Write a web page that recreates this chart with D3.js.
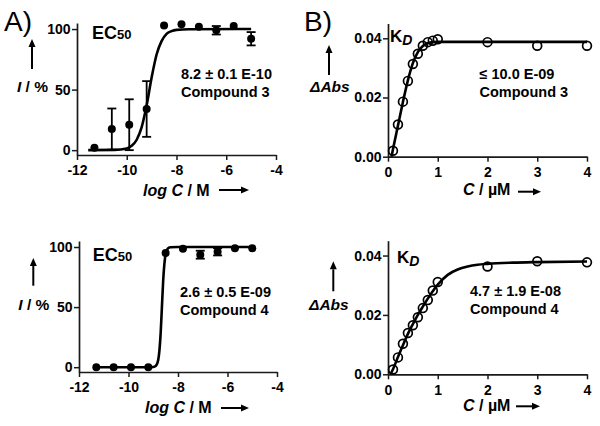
<!DOCTYPE html>
<html><head><meta charset="utf-8">
<script src="https://cdn.jsdelivr.net/npm/d3@7"></script>
<style>
html,body{margin:0;padding:0;background:#fff;}
svg{display:block;}
text{font-family:'Liberation Sans',Arial,Helvetica,sans-serif;fill:#000;}
</style></head>
<body>
<svg id="chart" width="600" height="426"></svg>
<script>
// ---------- data ----------
const aX = [-11.3, -10.6, -9.9, -9.2, -8.5, -7.8, -7.1, -6.4, -5.7, -5.0];
const a3Y = [1.9, 17.4, 21, 34, 103, 104, 102, 99, 102.5, 92];
const a3Err = [0, 17, 21, 23, 0, 0, 0, 3.5, 0, 5.5];
const a3CurveX = [-11.55, -10.5, -10.0, -9.8, -9.6, -9.4, -9.2, -9.0, -8.8, -8.6, -8.4, -8.2, -8.0, -7.5, -5.0];
const a3CurveY = [0, 0.2, 1.4, 3.6, 8.6, 19, 37, 60, 79, 90, 96, 98.3, 99.3, 99.9, 100];
const a4Y = [0, 0, 0, 0, 95, 98.6, 93.6, 96, 99, 99];
const a4Err = [0, 0, 0, 0, 0, 0, 3.3, 3, 0, 0];
const a4CurveX = [-11.3, -9.2, -9.0, -8.9, -8.8, -8.75, -8.7, -8.65, -8.6, -8.55, -8.5, -8.4, -8.3, -8.0, -5.0];
const a4CurveY = [0, 0, 0.2, 1, 6, 14, 28.5, 50, 71.5, 86, 94, 99, 99.8, 100, 100];

const bX = [0.1, 0.2, 0.3, 0.4, 0.5, 0.6, 0.7, 0.8, 0.9, 1.0, 2, 3, 4];
const b3Y = [0.0020, 0.0109, 0.0186, 0.0256, 0.0313, 0.0348, 0.0375, 0.0387, 0.0392, 0.0397, 0.0387, 0.0375, 0.0375];
const b3CurveX = [0.07, 0.1, 0.2, 0.3, 0.4, 0.5, 0.6, 0.7, 0.8, 0.9, 1.0, 2, 4];
const b3CurveY = [0, 0.0025, 0.0105, 0.0185, 0.0258, 0.0316, 0.0353, 0.0374, 0.0383, 0.0387, 0.0388, 0.0388, 0.0388];
const b4Y = [0.0016, 0.0057, 0.0103, 0.0139, 0.0165, 0.0192, 0.0223, 0.0250, 0.0282, 0.0311, 0.0363, 0.0381, 0.0377];
const b4CurveX = [0.05, 0.1, 0.2, 0.3, 0.4, 0.5, 0.6, 0.7, 0.8, 0.9, 1.0, 1.2, 1.4, 1.6, 1.8, 2.0, 2.5, 3, 4];
const b4CurveY = [0, 0.0017, 0.0058, 0.0098, 0.0136, 0.0169, 0.0200, 0.0228, 0.0255, 0.0280, 0.0302, 0.0335, 0.0353, 0.0363, 0.0369, 0.0372, 0.0376, 0.0378, 0.0380];

const aXTicks = [-12, -10, -8, -6, -4];
const aYTicks = [0, 50, 100];
const bXTicks = [0, 1, 2, 3, 4];
const bYTicks = [0, 0.02, 0.04];

const panelLabels = ["A)", "B)"];
const aValue = ["8.2 \u00B1 0.1 E-10", "2.6 \u00B1 0.5 E-09"];
const bValue = ["\u2264 10.0 E-09", "4.7 \u00B1 1.9 E-08"];
const compounds = ["Compound 3", "Compound 4"];

// ---------- drawing ----------
const svg = d3.select("#chart");
const AX = "#1a1a1a";
const FF = "'Liberation Sans',Arial,Helvetica,sans-serif";

function txt(g, x, y, size, weight) {
  return g.append("text").attr("x", x).attr("y", y)
    .style("font-size", size + "px").style("font-weight", weight || "bold").style("font-family", FF);
}

function drawAxes(g, x, y, xTicks, yTicks, yFmt) {
  const xa = g.append("g").attr("transform", `translate(0,${y.range()[0]})`)
    .call(d3.axisBottom(x).tickValues(xTicks).tickSize(5).tickSizeOuter(0).tickPadding(5.5).tickFormat(d => String(d)));
  const ya = g.append("g").attr("transform", `translate(${x.range()[0]},0)`)
    .call(d3.axisLeft(y).tickValues(yTicks).tickSize(5).tickSizeOuter(0).tickPadding(1.5).tickFormat(yFmt));
  [xa, ya].forEach(a => {
    a.selectAll("path.domain").attr("stroke", AX).attr("stroke-width", 1.7);
    a.selectAll(".tick line").attr("stroke", AX).attr("stroke-width", 1.5);
    a.selectAll(".tick text").attr("fill", "#000")
      .style("font-size", "14px").style("font-weight", "bold").style("font-family", FF);
  });
}

function curve(g, x, y, cx, cy) {
  const pts = cx.map((v, i) => [v, cy[i]]);
  g.append("path").datum(pts)
    .attr("d", d3.line().x(d => x(d[0])).y(d => y(d[1])).curve(d3.curveMonotoneX))
    .attr("fill", "none").attr("stroke", "#000").attr("stroke-width", 2.6).attr("stroke-linejoin", "round");
}

function arrow(g, x1, y1, x2, y2) {
  const ang = Math.atan2(y2 - y1, x2 - x1);
  const L = 8, W = 3.5;
  const bx = x2 - L * Math.cos(ang), by = y2 - L * Math.sin(ang);
  g.append("line").attr("x1", x1).attr("y1", y1).attr("x2", bx).attr("y2", by)
    .attr("stroke", "#000").attr("stroke-width", 2);
  const px = -Math.sin(ang) * W, py = Math.cos(ang) * W;
  g.append("path").attr("d", `M${x2},${y2}L${bx + px},${by + py}L${bx - px},${by - py}Z`).attr("fill", "#000");
}

// ----- Panel A (EC50) -----
const aPanels = [
  {xr: [77, 276], yr: [155, 23], ys: a3Y, err: a3Err, cx: a3CurveX, cy: a3CurveY,
   ec: [92, 38.5], val: [181, 78.5], cmp: 97, arrowY: [32, 69, 39], ylab: [17, 92], xlab: [143, 196], xarrow: [219, 249, 190]},
  {xr: [79, 277], yr: [372, 241], ys: a4Y, err: a4Err, cx: a4CurveX, cy: a4CurveY,
   ec: [92.7, 261], val: [180, 297.3], cmp: 314.7, arrowY: [33.3, 285.7, 258], ylab: [18.3, 309.7], xlab: [145, 413], xarrow: [221, 249, 408]}
];
aPanels.forEach((p, i) => {
  const g = svg.append("g");
  const x = d3.scaleLinear().domain([-12, -4]).range(p.xr);
  const y = d3.scaleLinear().domain([-4, 105]).range(p.yr);
  drawAxes(g, x, y, aXTicks, aYTicks, d => String(d));
  curve(g, x, y, p.cx, p.cy);
  aX.forEach((xv, j) => {
    const e = p.err[j];
    if (e <= 0) return;
    const lo = Math.max(p.ys[j] - e, 0), hi = p.ys[j] + e;
    const X = x(xv);
    g.append("line").attr("x1", X).attr("x2", X).attr("y1", y(lo)).attr("y2", y(hi)).attr("stroke", "#000").attr("stroke-width", 1.8);
    g.append("line").attr("x1", X - 4.5).attr("x2", X + 4.5).attr("y1", y(hi)).attr("y2", y(hi)).attr("stroke", "#000").attr("stroke-width", 1.8);
    g.append("line").attr("x1", X - 4.5).attr("x2", X + 4.5).attr("y1", y(lo)).attr("y2", y(lo)).attr("stroke", "#000").attr("stroke-width", 1.8);
  });
  g.selectAll("circle.pt").data(aX).enter().append("circle")
    .attr("cx", d => x(d)).attr("cy", (d, j) => y(p.ys[j])).attr("r", 4).attr("fill", "#000");
  const ec = txt(g, p.ec[0], p.ec[1], 18);
  ec.append("tspan").text("EC");
  ec.append("tspan").style("font-size", "13px").text("50");
  txt(g, p.val[0], p.val[1], 14.5).text(aValue[i]);
  txt(g, p.val[0], p.cmp, 14.5).text(compounds[i]);
  arrow(g, p.arrowY[0], p.arrowY[1], p.arrowY[0], p.arrowY[2]);
  const yl = txt(g, p.ylab[0], p.ylab[1], 15.5);
  yl.append("tspan").style("font-style", "italic").text("I");
  yl.append("tspan").text(" / %");
  const xl = txt(g, p.xlab[0], p.xlab[1], 16);
  xl.append("tspan").style("font-style", "italic").text("log C");
  xl.append("tspan").text(" / M");
  arrow(g, p.xarrow[0], p.xarrow[2], p.xarrow[1], p.xarrow[2]);
});

// ----- Panel B (KD) -----
const bPanels = [
  {yr: [156.7, 23.5], ys: b3Y, cx: b3CurveX, cy: b3CurveY,
   kd: [390, 42], val: [479.5, 78.5], cmp: 97, arrowY: [329, 75, 45], ylab: [310, 91.7], xlab: [463, 195], xarrow: [518, 541, 191.7]},
  {yr: [374.3, 240.7], ys: b4Y, cx: b4CurveX, cy: b4CurveY,
   kd: [397, 263], val: [470, 296.3], cmp: 313.5, arrowY: [333.3, 291.3, 261.3], ylab: [309, 309.7], xlab: [463, 411.3], xarrow: [516, 540, 406.3]}
];
bPanels.forEach((p, i) => {
  const g = svg.append("g");
  const x = d3.scaleLinear().domain([0, 4]).range([388, 587]);
  const y = d3.scaleLinear().domain([0, 0.045]).range(p.yr);
  drawAxes(g, x, y, bXTicks, bYTicks, d3.format(".2f"));
  curve(g, x, y, p.cx, p.cy);
  g.selectAll("circle.pt").data(bX).enter().append("circle")
    .attr("cx", d => x(d)).attr("cy", (d, j) => y(p.ys[j])).attr("r", 4.4)
    .attr("fill", "none").attr("stroke", "#000").attr("stroke-width", 1.7);
  const kd = txt(g, p.kd[0], p.kd[1], 17);
  kd.append("tspan").text("K");
  kd.append("tspan").style("font-size", "14px").style("font-style", "italic").attr("dy", 3).text("D");
  txt(g, p.val[0], p.val[1], 14.5).text(bValue[i]);
  txt(g, p.val[0], p.cmp, 14.5).text(compounds[i]);
  arrow(g, p.arrowY[0], p.arrowY[1], p.arrowY[0], p.arrowY[2]);
  txt(g, p.ylab[0], p.ylab[1], 15.5).style("font-style", "italic").text("\u0394Abs");
  const xl = txt(g, p.xlab[0], p.xlab[1], 16);
  xl.append("tspan").style("font-style", "italic").text("C");
  xl.append("tspan").text(" / \u00B5M");
  arrow(g, p.xarrow[0], p.xarrow[2], p.xarrow[1], p.xarrow[2]);
});

txt(svg, 4, 31, 28, "normal").text(panelLabels[0]);
txt(svg, 304, 30.5, 28, "normal").text(panelLabels[1]);
</script>
</body></html>
